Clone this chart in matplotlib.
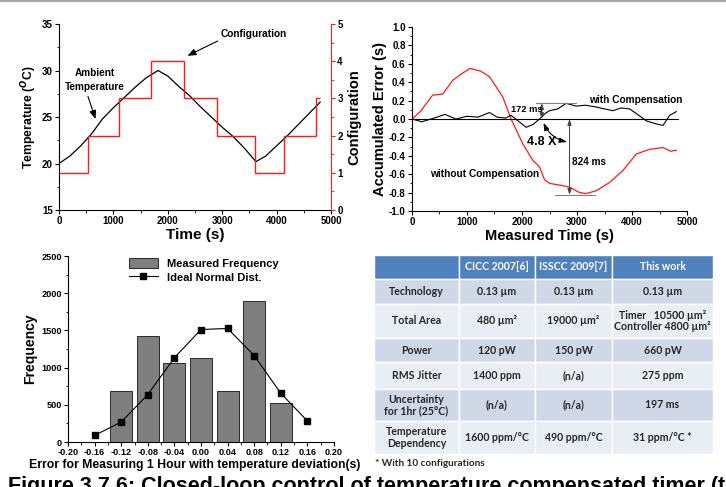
import numpy as np
import matplotlib.pyplot as plt
from matplotlib.patches import Rectangle
from matplotlib.lines import Line2D
from matplotlib.ticker import MultipleLocator, FormatStrFormatter

plt.rcParams['font.family'] = ['Liberation Sans', 'DejaVu Sans']
plt.rcParams['font.weight'] = 'bold'
plt.rcParams['axes.labelweight'] = 'bold'
plt.rcParams['mathtext.fontset'] = 'custom'
plt.rcParams['mathtext.rm'] = 'Liberation Sans:bold'
plt.rcParams['mathtext.bf'] = 'Liberation Sans:bold'

# ---- (a) ambient temperature and configuration ----
temp_time = [0, 200, 400, 600, 800, 1000, 1200, 1400, 1600, 1820, 2000, 2200, 2400,
             2600, 2800, 3000, 3200, 3400, 3620, 3800, 4000, 4200, 4400, 4600, 4800]
temp_vals = [20.0, 20.8, 21.9, 23.2, 24.8, 26.0, 27.1, 28.2, 29.2, 30.0, 29.4, 28.3, 27.3,
             26.1, 25.0, 23.9, 22.9, 21.7, 20.2, 20.8, 21.9, 23.0, 24.2, 25.4, 26.6]
cfg_edges = [0, 540, 1110, 1700, 2290, 2910, 3600, 4130, 4720, 4800]
cfg_levels = [1, 2, 3, 4, 3, 2, 1, 2, 3]

# ---- (b) accumulated error ----
red_time = [0, 150, 376, 558, 740, 900, 1056, 1250, 1408, 1650, 1802, 2015, 2197, 2318,
            2409, 2500, 2700, 2864, 3046, 3168, 3350, 3592, 3835, 4078, 4320, 4563, 4700, 4806]
red_err = [0.0, 0.08, 0.26, 0.27, 0.42, 0.49, 0.55, 0.52, 0.46, 0.24, 0.0, -0.27, -0.45, -0.52,
           -0.66, -0.70, -0.72, -0.74, -0.80, -0.81, -0.78, -0.69, -0.56, -0.38, -0.33, -0.31,
           -0.35, -0.34]
blk_time = [0, 180, 400, 600, 800, 1000, 1200, 1408, 1550, 1700, 1800, 2075, 2200, 2318,
            2420, 2500, 2650, 2804, 2985, 3150, 3350, 3500, 3653, 3800, 3956, 4100, 4260,
            4420, 4563, 4685, 4806]
blk_err = [0.0, -0.03, 0.01, 0.05, 0.0, 0.03, 0.02, 0.07, 0.02, 0.01, 0.04, -0.09, -0.06, 0.0,
           0.06, 0.09, 0.11, 0.17, 0.14, 0.15, 0.13, 0.11, 0.09, 0.12, 0.11, 0.05, -0.02,
           -0.05, -0.07, 0.04, 0.08]

# ---- (c) error histogram ----
hist_centers = [-0.12, -0.08, -0.04, 0.00, 0.04, 0.08, 0.12]
hist_freq = [690, 1425, 1060, 1125, 685, 1890, 520]
norm_x = [-0.16, -0.12, -0.08, -0.04, 0.00, 0.04, 0.08, 0.12, 0.16]
norm_y = [90, 268, 638, 1133, 1512, 1526, 1162, 655, 283]

# ---- comparison table ----
tbl_header = ['', 'CICC 2007[6]', 'ISSCC 2009[7]', 'This work']
tbl_rows = [
    ['Technology', '0.13 µm', '0.13 µm', '0.13 µm'],
    ['Total Area', '480 µm²', '19000 µm²', 'Timer   10500 µm²\nController 4800 µm²'],
    ['Power', '120 pW', '150 pW', '660 pW'],
    ['RMS Jitter', '1400 ppm', '(n/a)', '275 ppm'],
    ['Uncertainty\nfor 1hr (25°C)', '(n/a)', '(n/a)', '197 ms'],
    ['Temperature\nDependency', '1600 ppm/°C', '490 ppm/°C', '31 ppm/°C *'],
]
tbl_note = '* With 10 configurations'
caption = 'Figure 3.7.6: Closed-loop control of temperature compensated timer (t'

W, H = 726, 487


def box(l, t, r, b):
    # pixel box -> figure fraction rect
    return [l / W, 1 - b / H, (r - l) / W, (b - t) / H]


def style_ticks(ax):
    ax.tick_params(direction='out', length=3, width=0.8, labelsize=7, pad=1.5)
    ax.tick_params(which='minor', direction='out', length=1.8, width=0.6)


fig = plt.figure(figsize=(W / 100, H / 100), dpi=100)
fig.add_artist(Line2D([0, 1], [1 - 1.2 / H] * 2, color='#a8a8a8', lw=1.6))

# ---------------- top left ----------------
ax1 = fig.add_axes(box(59, 24, 331, 210))
ax1.plot(temp_time, temp_vals, color='black', lw=0.9)
ax1.set_xlim(0, 5000)
ax1.set_ylim(15, 35)
ax1.xaxis.set_major_locator(MultipleLocator(1000))
ax1.xaxis.set_minor_locator(MultipleLocator(500))
ax1.yaxis.set_major_locator(MultipleLocator(5))
ax1.yaxis.set_minor_locator(MultipleLocator(2.5))
ax1.spines['top'].set_visible(False)
ax1.spines['right'].set_visible(False)
ax1.set_xlabel('Time (s)', fontsize=11, labelpad=1)
ax1.set_ylabel(r'Temperature ($^{O}$C)', fontsize=8.8, labelpad=2)
style_ticks(ax1)

ax1r = ax1.twinx()
ax1r.stairs(cfg_levels, cfg_edges, color='#ff1a1a', lw=1.0, baseline=None)
ax1r.set_ylim(0, 5)
ax1r.yaxis.set_major_locator(MultipleLocator(1))
ax1r.yaxis.set_minor_locator(MultipleLocator(0.5))
ax1r.spines['top'].set_visible(False)
ax1r.spines['left'].set_visible(False)
ax1r.spines['bottom'].set_visible(False)
ax1r.spines['right'].set_color('#ff1a1a')
ax1r.set_ylabel('Configuration', fontsize=10.5, labelpad=3)
style_ticks(ax1r)
ax1r.tick_params(axis='y', which='both', colors='#ff1a1a', labelcolor='black')

arrow_kw = dict(arrowstyle='-|>,head_length=0.5,head_width=0.2', color='black', lw=0.8)
ax1.annotate('', xy=(2316, 31.45), xytext=(2961, 33.3), arrowprops=arrow_kw)
ax1.text(3575, 33.95, 'Configuration', fontsize=7.3, ha='center', va='center')
ax1.text(657, 29.0, 'Ambient\nTemperature', fontsize=7.2, ha='center', va='center',
         linespacing=1.45)
ax1.annotate('', xy=(688, 24.5), xytext=(516, 27.5), arrowprops=arrow_kw)

# ---------------- top right ----------------
ax2 = fig.add_axes(box(412, 27, 687, 211))
ax2.plot(red_time, red_err, color='#ff1a1a', lw=0.9)
ax2.plot(blk_time, blk_err, color='black', lw=0.8)
ax2.plot([0, 4840], [0, 0], color='black', lw=0.8)
ax2.set_xlim(0, 5000)
ax2.set_ylim(-1.0, 1.0)
ax2.xaxis.set_major_locator(MultipleLocator(1000))
ax2.xaxis.set_minor_locator(MultipleLocator(500))
ax2.yaxis.set_major_locator(MultipleLocator(0.2))
ax2.yaxis.set_minor_locator(MultipleLocator(0.1))
ax2.yaxis.set_major_formatter(FormatStrFormatter('%.1f'))
ax2.spines['top'].set_visible(False)
ax2.spines['right'].set_visible(False)
ax2.set_xlabel('Measured Time (s)', fontsize=10.5, labelpad=1)
ax2.set_ylabel('Accumulated Error (s)', fontsize=10.5, labelpad=1)
style_ticks(ax2)

grey = '#7a7a7a'
ax2.plot([2257, 2985], [0.172, 0.172], color=grey, lw=0.7)
ax2.plot([2591, 3319], [-0.824, -0.824], color=grey, lw=0.7)
dim_kw = dict(arrowstyle='<|-|>,head_length=0.35,head_width=0.12', color='#404040', lw=0.7,
              shrinkA=0, shrinkB=0)
ax2.annotate('', xy=(2360, 0.172), xytext=(2360, 0.0), arrowprops=dim_kw)
ax2.annotate('', xy=(2864, -0.824), xytext=(2864, 0.0), arrowprops=dim_kw)
ax2.annotate('', xy=(2820, -0.25), xytext=(2390, -0.04),
             arrowprops=dict(arrowstyle='<|-|>,head_length=0.45,head_width=0.15', color='black',
                             lw=0.8, connectionstyle='arc3,rad=0.25', shrinkA=0, shrinkB=0))
ax2.text(2090, 0.10, '172 ms', fontsize=6.7, ha='center', va='center')
ax2.text(3216, -0.467, '824 ms', fontsize=7.2, ha='center', va='center')
ax2.text(2367, -0.25, '4.8 X', fontsize=9, ha='center', va='center')
ax2.text(4066, 0.21, 'with Compensation', fontsize=7.3, ha='center', va='center')
ax2.text(1311, -0.60, 'without Compensation', fontsize=7.3, ha='center', va='center')

# ---------------- bottom left ----------------
ax3 = fig.add_axes(box(68, 256, 334, 442))
bars = ax3.bar(hist_centers, hist_freq, width=0.033, color='#7f7f7f', edgecolor='#2a2a2a',
               lw=0.7, label='Measured Frequency')
line, = ax3.plot(norm_x, norm_y, color='black', lw=0.8, marker='s', markersize=4,
                 label='Ideal Normal Dist.')
ax3.set_xlim(-0.20, 0.20)
ax3.set_ylim(0, 2500)
ax3.set_xticks(np.arange(-0.20, 0.201, 0.04))
ax3.xaxis.set_major_formatter(FormatStrFormatter('%.2f'))
ax3.xaxis.set_minor_locator(MultipleLocator(0.02))
ax3.yaxis.set_major_locator(MultipleLocator(500))
ax3.yaxis.set_minor_locator(MultipleLocator(250))
ax3.spines['top'].set_visible(False)
ax3.spines['right'].set_visible(False)
ax3.set_ylabel('Frequency', fontsize=10, labelpad=3)
style_ticks(ax3)
ax3.tick_params(labelsize=6.6)
ax3.legend(handles=[bars, line], loc='upper center', bbox_to_anchor=(0.51, 1.03),
           frameon=False, fontsize=8, handlelength=2.6, handleheight=1.0,
           labelspacing=0.25, borderpad=0.2)
fig.text(195 / W, 1 - 465 / H, 'Error for Measuring 1 Hour with temperature deviation(s)',
         fontsize=8.8, ha='center', va='center')

# ---------------- bottom right: table ----------------
axt = fig.add_axes(box(374, 255, 713, 454))
axt.set_xlim(0, 339)
axt.set_ylim(199, 0)
axt.axis('off')
col_edges = [0, 85, 161, 238, 339]
row_edges = [0, 24, 49, 83, 107, 134, 166, 199]
row_fills = ['#d0d8e8', '#e9edf4']
for r in range(len(row_edges) - 1):
    cells = tbl_header if r == 0 else tbl_rows[r - 1]
    fill = '#4f81bd' if r == 0 else row_fills[(r - 1) % 2]
    y0, y1 = row_edges[r], row_edges[r + 1]
    for c in range(len(col_edges) - 1):
        x0, x1 = col_edges[c], col_edges[c + 1]
        axt.add_patch(Rectangle((x0, y0), x1 - x0, y1 - y0, facecolor=fill,
                                edgecolor='white', lw=1.0))
        axt.text((x0 + x1) / 2, (y0 + y1) / 2, cells[c], ha='center', va='center',
                 fontsize=7.6, family=['Lato', 'DejaVu Sans'], linespacing=1.1,
                 weight='bold', color='white' if r == 0 else '#262626')
fig.text(375 / W, 1 - 463 / H, tbl_note, fontsize=7.2, family=['Lato', 'DejaVu Sans'],
         weight='bold', color='#262626', ha='left', va='center')

# caption, cut off by the bottom edge as in the source slide
fig.text(8 / W, -5 / H, caption, fontsize=15.5, ha='left', va='baseline')

fig.savefig('out.png', dpi=100)
